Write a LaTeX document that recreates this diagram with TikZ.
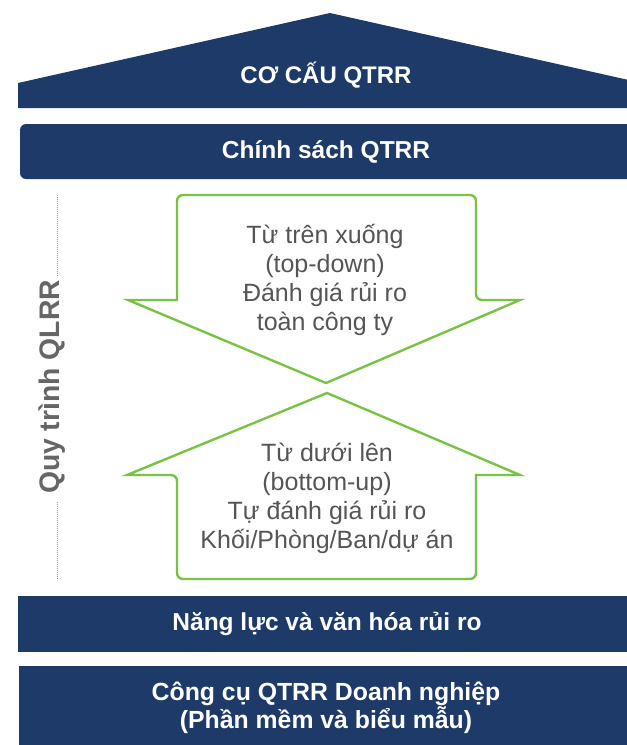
\documentclass[tikz,border=0pt]{standalone}
\usepackage{fontspec}
\setmainfont{Liberation Sans}
\definecolor{navy}{RGB}{30,58,105}
\definecolor{leaf}{RGB}{122,194,70}
\definecolor{txtgrey}{RGB}{85,85,85}
\definecolor{dotgrey}{RGB}{150,150,150}
\tikzset{
  darkbox/.style={fill=navy,draw=none},
  whitetxt/.style={text=white,font=\fontsize{24.5}{28}\selectfont\bfseries,align=center,inner sep=0pt},
  arrowshape/.style={draw=leaf,line width=2.4pt,fill=white,line join=miter},
  greytxt/.style={text=txtgrey,font=\fontsize{25}{29}\selectfont,align=center,inner sep=0pt},
  sidetxt/.style={text=txtgrey!90!white,font=\fontsize{28.3}{32}\selectfont\bfseries,inner sep=0pt},
  dotline/.style={draw=dotgrey,line width=0.9pt,dash pattern=on 0.9pt off 1.1pt}
}
\begin{document}
\begin{tikzpicture}[x=1pt,y=-1pt]
\useasboundingbox (0,0) rectangle (627,745);
\begin{scope}
\clip (0,0) rectangle (627,745);
% roof
\fill[navy] (18,83) -- (330,13) -- (642,83) -- (642,108) -- (18,108) -- cycle;
% policy box
\fill[navy,rounded corners=6pt] (20,124) rectangle (660,179);
% capacity box
\fill[navy] (18,596) rectangle (660,652);
% tools box
\fill[navy] (19,666) rectangle (660,760);
\end{scope}
\node[whitetxt,font=\fontsize{24}{28}\selectfont\bfseries] (roof) at (326,75) {CƠ CẤU QTRR};
\node[whitetxt] (policy) at (326,152) {Chính sách QTRR};
\node[whitetxt] (capacity) at (327,624) {Năng lực và văn hóa rủi ro};
\node[whitetxt,font=\fontsize{24.8}{28}\selectfont\bfseries] (tools) at (326,708) {Công cụ QTRR Doanh nghiệp\\(Phần mềm và biểu mẫu)};
% down arrow
\draw[arrowshape] (128,300) -- (177,300) [rounded corners=6pt] -- (177,195) -- (476,195) -- (476,300) [sharp corners] -- (520,300) -- (326,383) -- cycle;
% up arrow
\draw[arrowshape] (327,393) -- (520,475) -- (476,475) [rounded corners=6pt] -- (476,579) -- (177,579) -- (177,475) [sharp corners] -- (127,475) -- cycle;
\node[greytxt] (topdown) at (325,280) {Từ trên xuống\\(top-down)\\Đánh giá rủi ro\\toàn công ty};
\node[greytxt] (bottomup) at (327,498) {Từ dưới lên\\(bottom-up)\\Tự đánh giá rủi ro\\Khối/Phòng/Ban/dự án};
% side label
\node[sidetxt,rotate=90] (side) at (52,387) {Quy trình QLRR};
\coordinate (d1a) at (57,195);
\coordinate (d1b) at (57,277);
\coordinate (d2a) at (57,502);
\coordinate (d2b) at (57,580);
\draw[dotline] (d1a) -- (d1b);
\draw[dotline] (d2a) -- (d2b);
\end{tikzpicture}
\end{document}
